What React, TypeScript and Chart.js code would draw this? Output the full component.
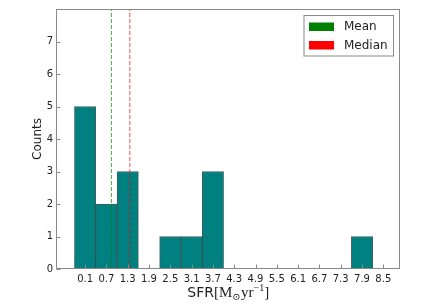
import React, { useEffect, useRef } from "react";
import { Chart, registerables } from "chart.js";

Chart.register(...registerables);

// ---- data ----
const binCenters = [0.1, 0.7, 1.3, 1.9, 2.5, 3.1, 3.7, 4.3, 4.9, 5.5, 6.1, 6.7, 7.3, 7.9, 8.5];
const counts = [5, 2, 3, 0, 1, 1, 3, 0, 0, 0, 0, 0, 0, 1, 0];
const xTickValues = [0.1, 0.7, 1.3, 1.9, 2.5, 3.1, 3.7, 4.3, 4.9, 5.5, 6.1, 6.7, 7.3, 7.9, 8.5];
const yTickValues = [0, 1, 2, 3, 4, 5, 6, 7, 8];
const meanSFR = 0.84;
const medianSFR = 1.36;
const legendLabels = ["Mean", "Median"];
const xRange = [-0.72, 8.97];
const yRange = [0, 8];

const SANS = "'DejaVu Sans', sans-serif";
const SERIF = "'Liberation Serif', 'DejaVu Serif', serif";

const decorPlugin = {
  id: "decor",
  afterDraw(chart: any) {
    const ctx = chart.ctx as CanvasRenderingContext2D;
    const a = chart.chartArea;
    const xs = chart.scales.x;
    const ys = chart.scales.y;
    ctx.save();
    // frame
    ctx.strokeStyle = "#8a8a8a";
    ctx.lineWidth = 1;
    const L = Math.round(a.left) + 0.5;
    const R = Math.round(a.right) - 0.5;
    const T = Math.round(a.top) + 0.5;
    const B = Math.round(a.bottom) - 0.5;
    ctx.strokeRect(L, T, R - L, B - T);
    // inward tick marks
    ctx.beginPath();
    xTickValues.forEach((v) => {
      const px = Math.round(xs.getPixelForValue(v)) + 0.5;
      ctx.moveTo(px, B);
      ctx.lineTo(px, B - 4);
    });
    yTickValues.forEach((v) => {
      const py = Math.round(ys.getPixelForValue(v)) + 0.5;
      ctx.moveTo(L, py);
      ctx.lineTo(L + 4, py);
    });
    ctx.stroke();

    // legend
    const lx = R - 95.5;
    const ly = T + 6;
    const lw = 89.5;
    const lh = 40.5;
    ctx.fillStyle = "#ffffff";
    ctx.fillRect(lx, ly, lw, lh);
    ctx.strokeStyle = "#8a8a8a";
    ctx.strokeRect(lx, ly, lw, lh);
    const colors = ["#008000", "#ff0000"];
    ctx.font = `12px ${SANS}`;
    ctx.textBaseline = "middle";
    ctx.textAlign = "left";
    legendLabels.forEach((lab, i) => {
      const cy = ly + 11 + i * 18.5;
      ctx.fillStyle = colors[i];
      ctx.fillRect(lx + 5, cy - 4, 25, 8.5);
      ctx.fillStyle = "#222222";
      ctx.fillText(lab, lx + 40, cy + 0.5);
    });

    // y title
    ctx.save();
    ctx.translate(38, (a.top + a.bottom) / 2);
    ctx.rotate(-Math.PI / 2);
    ctx.font = `12px ${SANS}`;
    ctx.textAlign = "center";
    ctx.textBaseline = "middle";
    ctx.fillStyle = "#222222";
    ctx.fillText("Counts", 0, 0);
    ctx.restore();

    // x title: SFR[M_⊙ yr^-1]
    const parts: { t: string; f: string; dy: number }[] = [
      { t: "SFR", f: `14px "DejaVu Sans"`, dy: 0 },
      { t: "[M", f: `15px ${SERIF}`, dy: 0 },
      { t: "⊙", f: `10px ${SERIF}`, dy: 2.5 },
      { t: "yr", f: `15px ${SERIF}`, dy: 0 },
      { t: "−1", f: `10px ${SERIF}`, dy: -6 },
      { t: "]", f: `15px ${SERIF}`, dy: 0 },
    ];
    let total = 0;
    const widths = parts.map((p) => {
      ctx.font = p.f;
      const w = ctx.measureText(p.t).width;
      total += w;
      return w;
    });
    let x = (a.left + a.right) / 2 - total / 2;
    const base = 297;
    ctx.textAlign = "left";
    ctx.textBaseline = "alphabetic";
    ctx.fillStyle = "#222222";
    parts.forEach((p, i) => {
      ctx.font = p.f;
      ctx.fillText(p.t, x, base + p.dy);
      x += widths[i] + (i === 2 ? 0.5 : 0);
    });
    ctx.restore();
  },
};

export default function App() {
  const ref = useRef<HTMLCanvasElement | null>(null);
  useEffect(() => {
    if (!ref.current) return;
    const chart = new Chart(ref.current, {
      type: "bar",
      data: {
        datasets: [
          {
            type: "line" as any,
            label: "Mean",
            data: [
              { x: meanSFR, y: yRange[0] },
              { x: meanSFR, y: yRange[1] },
            ],
            borderColor: "rgba(0,128,0,0.7)",
            borderWidth: 1,
            borderDash: [4, 2],
            pointRadius: 0,
            order: 0,
          } as any,
          {
            type: "line" as any,
            label: "Median",
            data: [
              { x: medianSFR, y: yRange[0] },
              { x: medianSFR, y: yRange[1] },
            ],
            borderColor: "rgba(255,0,0,0.7)",
            borderWidth: 1,
            borderDash: [4, 2],
            pointRadius: 0,
            order: 0,
          } as any,
          {
            type: "bar",
            label: "SFR",
            data: binCenters.map((c, i) => ({ x: c, y: counts[i] })),
            backgroundColor: "#008080",
            borderColor: "rgba(0,40,40,0.75)",
            borderWidth: 1,
            borderSkipped: false,
            barPercentage: 1,
            categoryPercentage: 1,
            order: 1,
          } as any,
        ],
      },
      options: {
        responsive: false,
        animation: false,
        layout: { padding: { left: 0, top: 3, right: 32, bottom: 0 } },
        plugins: {
          legend: { display: false },
          tooltip: { enabled: false },
          title: { display: false },
        },
        scales: {
          x: {
            type: "linear",
            min: xRange[0],
            max: xRange[1],
            offset: false,
            grid: { display: false, drawTicks: false },
            border: { display: false },
            afterBuildTicks: (scale: any) => {
              scale.ticks = xTickValues.map((v) => ({ value: v }));
            },
            afterFit: (scale: any) => {
              scale.height = 36;
            },
            ticks: {
              autoSkip: false,
              maxRotation: 0,
              padding: 4,
              color: "#222222",
              font: { family: SANS, size: 10 },
              callback: (v: any) => Number(v).toFixed(1),
            },
          },
          y: {
            type: "linear",
            min: yRange[0],
            max: yRange[1],
            grid: { display: false, drawTicks: false },
            border: { display: false },
            afterBuildTicks: (scale: any) => {
              scale.ticks = yTickValues.map((v) => ({ value: v }));
            },
            afterFit: (scale: any) => {
              scale.width = 56;
            },
            ticks: {
              padding: 3,
              color: "#222222",
              font: { family: SANS, size: 10 },
              callback: (v: any) => (v === yRange[1] ? "" : String(v)),
            },
          },
        },
      },
      plugins: [decorPlugin],
    });
    return () => chart.destroy();
  }, []);

  return (
    <div style={{ position: "fixed", left: 0, top: 0, width: 432, height: 305, background: "#fff" }}>
      <canvas ref={ref} width={432} height={305} style={{ width: 432, height: 305 }} />
    </div>
  );
}
